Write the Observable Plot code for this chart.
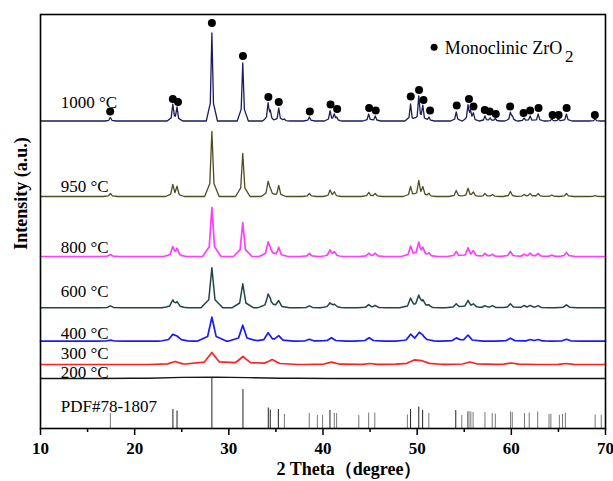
<!DOCTYPE html>
<html><head><meta charset="utf-8">
<script src="https://cdn.jsdelivr.net/npm/d3@7"></script>
<script src="https://cdn.jsdelivr.net/npm/@observablehq/plot@0.6"></script>
<style>
body{margin:0;background:#fff}
#chart svg{display:block}
#chart text{font-family:"Liberation Serif","Times New Roman",serif}
</style></head><body><div id="chart"></div>
<script>
// ---- data ----
const samples = ["1000 °C","950 °C","800 °C","600 °C","400 °C","300 °C","200 °C"];
const colors  = ["#1c1c5c","#4d4d1f","#ff3dff","#1e4646","#1a1aff","#ff2020","#151515"];
const lineWidths = [1.3, 1.3, 1.7, 1.5, 1.7, 1.7, 1.4];
const baselines = [307.5, 232, 172, 120.7, 87.3, 64, 50];      // intensity offset (a.u.)
const labelLevels = [321, 237, 176, 132, 90, 70, 51];
const peakHalfWidth = [0.17, 0.22, 0.28, 0.33, 0.45, 0.8, 3.5]; // degrees

const peaks1000 = [[17.42,3.5],[24.05,16],[24.5,13],[28.2,88],[31.48,58],[34.17,17],[34.4,8],[35.3,13],[35.9,2],[38.55,4],[40.75,10],[41.2,6],[41.45,3],[44.85,7],[45.55,5],[49.3,17],[50.17,24],[50.6,14],[51.25,4],[54.15,9],[55.4,15],[55.65,8],[55.97,7],[57.2,5],[57.75,3],[58.3,2.5],[59.9,8],[60.1,4],[61.35,3],[62.0,5],[62.85,7],[64.3,2],[65.0,2],[65.85,7],[68.9,2]];
const peaks950 = [[17.42,3],[24.05,11],[24.5,9],[28.2,65],[31.48,43],[34.17,14],[34.4,6],[35.3,11],[38.55,3],[40.75,6],[41.2,4],[44.85,4],[45.55,3],[49.3,10],[50.17,15],[50.6,8],[51.25,3],[54.15,6],[55.4,8],[55.97,4],[57.2,3],[58.0,2],[59.9,5],[61.35,2],[62.0,3],[62.85,3],[64.3,1.5],[65.85,3],[68.9,1]];
const peaks800 = [[17.42,2],[24.05,9],[24.5,7],[28.2,49],[31.48,34],[34.17,13],[34.4,5],[35.3,9],[38.55,3],[40.75,6],[41.2,4],[44.85,3],[45.55,3],[49.3,10],[50.17,13],[50.6,7],[51.25,3],[54.15,5],[55.4,8],[55.97,5],[57.2,3],[58.0,2],[59.9,5],[61.35,2],[62.0,3],[62.85,3],[64.3,1.5],[65.85,4]];
const peaks600 = [[17.42,2],[24.05,7],[24.5,5],[28.2,40],[31.48,24],[34.17,12],[34.4,4],[35.3,7],[38.55,2],[40.75,4.5],[41.2,3],[44.85,3],[45.55,2],[49.3,9],[50.17,11],[50.6,6],[51.25,2],[54.15,4],[55.4,7],[55.97,3],[57.2,2],[58.0,2],[59.9,4],[61.35,2],[62.0,2],[62.85,2],[65.85,3]];
const peaks400 = [[17.42,1],[24.05,6],[24.5,4],[28.2,24],[31.48,16],[34.17,8],[35.3,5],[38.55,2],[40.9,3.5],[44.9,3.5],[49.3,6],[50.2,7],[50.6,4],[54.15,3],[55.4,6],[59.9,3],[62.0,1.5],[62.85,1.5],[65.85,2]];
const peaks300 = [[24.3,3],[28.2,12],[31.5,8],[34.6,5],[40.9,2.3],[45.0,1],[49.7,4],[50.5,3],[55.6,2.5],[60.0,1.5],[65.8,1]];
const peaks200 = [[25,0.8],[28.5,1.1],[32,0.6]];
const allPeaks = [peaks1000, peaks950, peaks800, peaks600, peaks400, peaks300, peaks200];

// monoclinic markers above the 1000 °C pattern: [2θ, height above its baseline]
const markers = [[17.4,9.5],[24.05,22],[24.6,19],[28.2,98],[31.5,65],[34.2,24],[35.3,19],[38.6,9.5],[40.8,16.5],[41.5,12],[44.9,13],[45.6,10.5],[49.32,24.5],[50.2,31],[50.67,21],[51.37,10.5],[54.2,15.5],[55.5,22],[55.98,14.5],[57.18,11],[57.7,9.5],[58.35,7],[59.87,14.5],[61.3,8],[62.0,10.5],[62.89,13],[64.38,6],[65.02,6],[65.87,13],[68.87,6]];

// PDF#78-1807 reference sticks: [2θ, relative height]
const sticks = [[17.42,15],[24.06,19],[24.5,17.5],[28.2,50],[31.5,39],[34.19,20.5],[34.4,18.5],[35.26,19],[35.9,14],[38.54,15],[39.4,13],[39.96,13],[40.74,18],[41.2,15],[41.45,15],[43.8,13],[44.85,15.5],[45.5,15.5],[48.96,13.5],[49.3,19],[50.17,21.5],[50.58,18],[51.24,15],[54.1,18],[54.74,13],[55.36,16.5],[55.5,17],[55.7,16.5],[55.94,16],[57.2,16],[57.97,15],[58.3,14.5],[59.92,16.5],[60.1,16],[61.4,15],[61.9,15.5],[62.8,16.5],[64.0,14],[64.2,14.3],[65.1,13.3],[65.44,14],[65.74,15.3],[68.9,13.5],[69.55,13.3]];

const xTicks = [10,20,30,40,50,60,70];
const xMinorTicks = [15,25,35,45,55,65];
const pdfLabel = "PDF#78-1807";
const pdfLabelLevel = 17;
const legendLabel = "Monoclinic ZrO";
const xTitle = "2 Theta（degree）";
const yTitle = "Intensity (a.u.)";

// ---- build line rows: each peak = sharp core + broader foot, summed on a baseline ----
const rows = [];
samples.forEach((name, i) => {
  const w = peakHalfWidth[i], pk = allPeaks[i];
  const comps = [];
  for (const [p, h] of pk) { comps.push([p, 0.72 * h, w]); comps.push([p, 0.28 * h, 3.5 * w]); }
  const xs = new Set([10, 70]);
  for (const [p, , ww] of comps) { xs.add(p - ww); xs.add(p); xs.add(p + ww); }
  [...xs].filter(x => x >= 10 && x <= 70).sort((a, b) => a - b).forEach(x => {
    rows.push({sample: name, theta: x,
      y: baselines[i] + d3.sum(comps, ([p, h, ww]) => Math.max(0, h * (1 - Math.abs(x - p) / ww)))});
  });
});
const labelRows = samples.map((s, i) => ({s, y: labelLevels[i]}));
const markerRows = markers.map(([t, h]) => ({t, y: baselines[0] + h}));

const lineMarks = samples.map((s, i) =>
  Plot.line(rows.filter(r => r.sample === s), {x: "theta", y: "y", stroke: "sample", strokeWidth: lineWidths[i], strokeLinejoin: "round"}));

const chart = Plot.plot({
  width: 613, height: 481,
  marginLeft: 40, marginRight: 8, marginTop: 14, marginBottom: 53,
  x: {domain: [10, 70]},
  y: {domain: [0, 414], axis: null},
  color: {domain: samples, range: colors},
  marks: [
    Plot.ruleX(sticks, {x: d => d[0], y1: 0, y2: d => d[1], stroke: d => d[1] > 17 ? "#222" : "#777", strokeWidth: 1}),
    ...lineMarks.reverse(),
    Plot.dot(markerRows, {x: "t", y: "y", r: 4, fill: "black"}),
    Plot.text(labelRows, {x: 12.15, y: "y", text: "s", textAnchor: "start", lineAnchor: "bottom", fontSize: 17, fill: "black"}),
    Plot.text([pdfLabel], {x: 12.15, y: pdfLabelLevel, text: d => d, textAnchor: "start", lineAnchor: "bottom", fontSize: 17, fill: "black"}),
    Plot.dot([0], {x: 51.8, y: 381.3, r: 3.5, fill: "black"}),
    Plot.text([legendLabel], {x: 52.93, y: 375, text: d => d, textAnchor: "start", lineAnchor: "bottom", fontSize: 18, fill: "black"}),
    Plot.text(["2"], {x: 65.7, y: 367, text: d => d, textAnchor: "start", lineAnchor: "bottom", fontSize: 17, fill: "black"}),
    Plot.axisX({ticks: xMinorTicks, tickSize: 4, tickFormat: () => "", strokeWidth: 1.5}),
    Plot.axisX({ticks: xTicks, tickSize: 7, tickPadding: 6, tickFormat: d => d, fontSize: 17, fontWeight: "bold", strokeWidth: 1.5, label: null}),
    Plot.frame({stroke: "black", strokeWidth: 1.6}),
    Plot.text([xTitle], {frameAnchor: "bottom", dx: 26, dy: 46, text: d => d, textAnchor: "middle", lineAnchor: "bottom", fontSize: 18, fontWeight: "bold", fill: "black"}),
    Plot.text([yTitle], {frameAnchor: "left", dx: -19, dy: -28, rotate: -90, text: d => d, textAnchor: "middle", fontSize: 18, fontWeight: "bold", fill: "black"})
  ]
});
document.getElementById("chart").appendChild(chart);
</script></body></html>
